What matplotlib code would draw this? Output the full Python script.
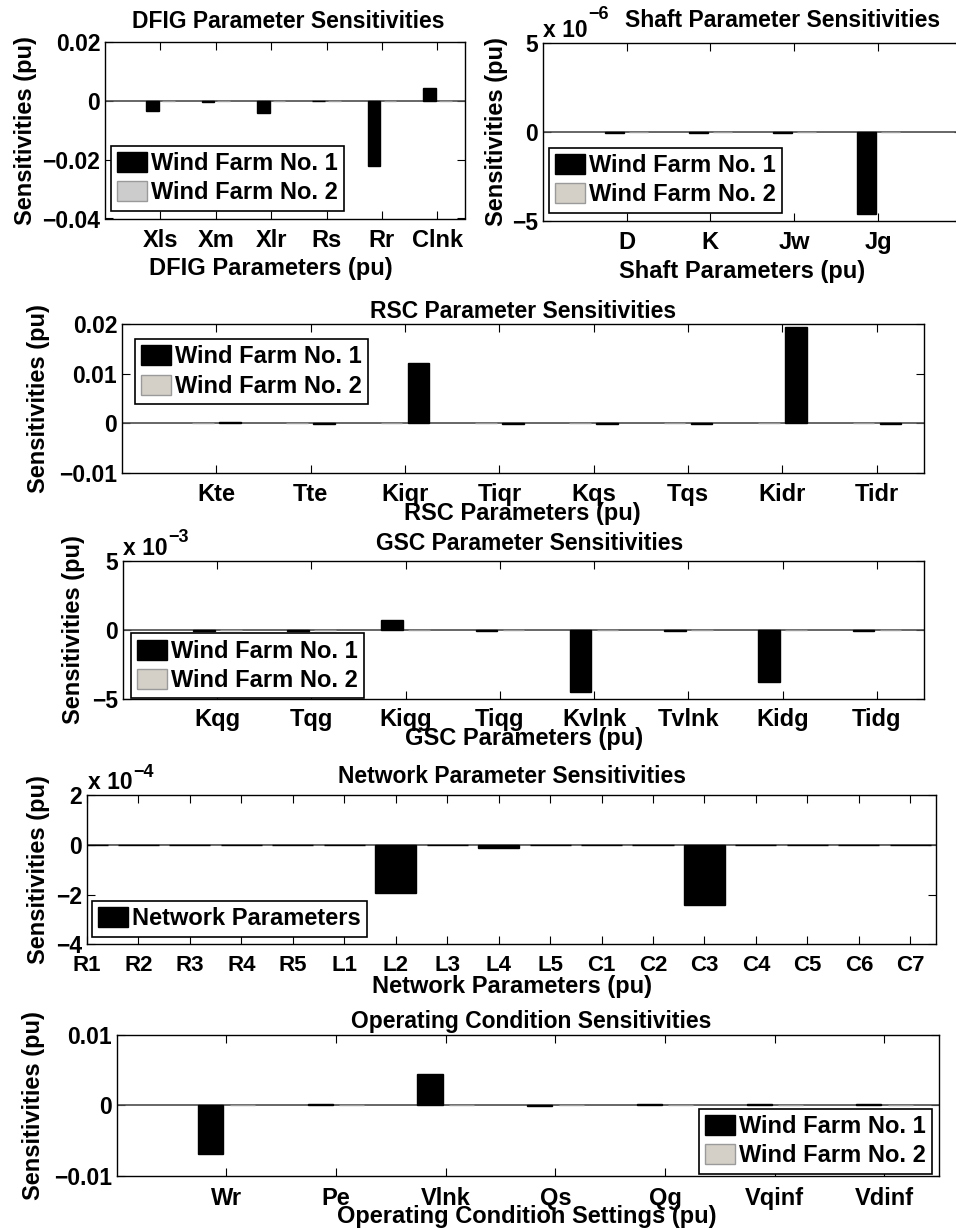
import numpy as np
import matplotlib
matplotlib.use("Agg")
import matplotlib.pyplot as plt
from matplotlib.patches import Patch

plt.rcParams['font.family'] = ['Liberation Sans', 'DejaVu Sans']
plt.rcParams['font.weight'] = 'bold'
plt.rcParams['axes.linewidth'] = 1.0

# ---------------- data ----------------
dfig_params = ['Xls', 'Xm', 'Xlr', 'Rs', 'Rr', 'Clnk']
dfig_wf1 = [-0.0034, -0.0003, -0.0040, 0.0001, -0.0221, 0.0043]
dfig_wf2 = [0.0, 0.0, 0.0, 0.0, 0.0, 0.0]

shaft_params = ['D', 'K', 'Jw', 'Jg']
shaft_wf1 = [-0.05e-6, -0.05e-6, -0.05e-6, -4.64e-6]
shaft_wf2 = [0.0, 0.0, 0.0, 0.0]

rsc_params = ['Kte', 'Tte', 'Kiqr', 'Tiqr', 'Kqs', 'Tqs', 'Kidr', 'Tidr']
rsc_wf1 = [0.0002, -0.0001, 0.0121, -0.0001, -0.0001, -0.0001, 0.0193, -0.0001]
rsc_wf2 = [0.0, 0.0, 0.0, 0.0, 0.0, 0.0, 0.0, 0.0]

gsc_params = ['Kqg', 'Tqg', 'Kiqg', 'Tiqg', 'Kvlnk', 'Tvlnk', 'Kidg', 'Tidg']
gsc_wf1 = [-0.05e-3, -0.05e-3, 0.75e-3, -0.05e-3, -4.50e-3, -0.05e-3, -3.77e-3, -0.05e-3]
gsc_wf2 = [0.0, 0.0, 0.0, 0.0, 0.0, 0.0, 0.0, 0.0]

net_params = ['R1', 'R2', 'R3', 'R4', 'R5', 'L1', 'L2', 'L3', 'L4', 'L5',
              'C1', 'C2', 'C3', 'C4', 'C5', 'C6', 'C7']
net_vals = [-0.02e-4, -0.02e-4, -0.02e-4, -0.02e-4, -0.02e-4, -0.02e-4, -1.94e-4,
            -0.02e-4, -0.11e-4, -0.02e-4, -0.02e-4, -0.02e-4, -2.44e-4,
            -0.02e-4, -0.02e-4, -0.02e-4, -0.02e-4]

op_params = ['Wr', 'Pe', 'Vlnk', 'Qs', 'Qg', 'Vqinf', 'Vdinf']
op_wf1 = [-0.0069, 0.0001, 0.0044, -0.0001, 0.0001, 0.0001, 0.0001]
op_wf2 = [0.0, 0.0, 0.0, 0.0, 0.0, 0.0, 0.0]

wf_labels = ['Wind Farm No. 1', 'Wind Farm No. 2']

# ---------------- layout helpers (pixel units) ----------------
W, H = 956, 1230
fig = plt.figure(figsize=(W / 100, H / 100), dpi=100)

BLACK = 'black'
GREY_WARM = '#d4d0c8'
GREY_EDGE = '#9a9a9a'


def make_axes(l, r, t, b):
    ax = fig.add_axes([l / W, 1 - b / H, (r - l) / W, (b - t) / H])
    ax._pxbox = (l, r, t, b)
    return ax


def fx(ax, x):
    l, r, t, b = ax._pxbox
    return (x - l) / (r - l)


def fy(ax, y):
    l, r, t, b = ax._pxbox
    return (b - y) / (b - t)


def style(ax, cats, xlim, ylim, yticks, yticklabels, xfs=17, xpad=7.5):
    x = np.arange(1, len(cats) + 1)
    ax.set_xlim(*xlim)
    ax.set_ylim(*ylim)
    ax.tick_params(axis='both', direction='in', top=True, right=True,
                   length=5.5, width=0.8, color='black')
    ax.tick_params(axis='x', pad=xpad, labelsize=xfs)
    ax.tick_params(axis='y', pad=3.5, labelsize=16.5)
    ax.set_xticks(x)
    ax.set_xticklabels(cats, fontweight='bold')
    ax.set_yticks(yticks)
    ax.set_yticklabels(yticklabels, fontweight='bold')
    ax.axhline(0, color='0.3', lw=1.2, zorder=2)


def texts(ax, title, title_xy, xlabel, xlabel_xy, ylabel_x):
    ax.set_title(title, fontsize=16.5, fontweight='bold',
                 x=fx(ax, title_xy[0]), y=fy(ax, title_xy[1]), pad=0)
    ax.set_xlabel(xlabel, fontsize=17, fontweight='bold', va='baseline')
    ax.xaxis.set_label_coords(fx(ax, xlabel_xy[0]), fy(ax, xlabel_xy[1]))
    ax.set_ylabel('Sensitivities (pu)', fontsize=17, fontweight='bold')
    ax.yaxis.set_label_coords(fx(ax, ylabel_x), 0.5)


def scale_label(ax, base_xy, exp_xy, exponent):
    ax.text(fx(ax, base_xy[0]), fy(ax, base_xy[1]), 'x 10', transform=ax.transAxes,
            fontsize=16.5, fontweight='bold', ha='left', va='baseline', clip_on=False)
    ax.text(fx(ax, exp_xy[0]), fy(ax, exp_xy[1]), exponent, transform=ax.transAxes,
            fontsize=13, fontweight='bold', ha='left', va='baseline', clip_on=False)


def grouped(ax, wf1, wf2, wf1_first=True):
    x = np.arange(1, len(wf1) + 1)
    off, width = 0.143, 0.229
    o1, o2 = (-off, off) if wf1_first else (off, -off)
    ax.bar(x + o2, wf2, width, color=GREY_WARM, edgecolor=GREY_EDGE, linewidth=1, zorder=3)
    ax.bar(x + o1, wf1, width, color=BLACK, edgecolor=BLACK, linewidth=1, zorder=4)


def legend(ax, labels, handles, anchor, loc='upper left'):
    leg = ax.legend(handles, labels, loc=loc,
                    bbox_to_anchor=(fx(ax, anchor[0]), fy(ax, anchor[1])),
                    borderaxespad=0, prop={'size': 17, 'weight': 'bold'},
                    frameon=True, fancybox=False, framealpha=1, edgecolor='black',
                    handlelength=1.27, handleheight=0.92, handletextpad=0.15,
                    borderpad=0.27, labelspacing=0.26)
    leg.get_frame().set_linewidth(1.2)
    leg.set_zorder(10)
    return leg


def wf_handles(grey=GREY_WARM):
    return [Patch(facecolor=BLACK, edgecolor=BLACK),
            Patch(facecolor=grey, edgecolor=GREY_EDGE)]


M = '\u2212'

# ---------------- DFIG ----------------
ax = make_axes(105, 465, 42, 218.5)
grouped(ax, dfig_wf1, dfig_wf2)
style(ax, dfig_params, (0, 6.5), (-0.04, 0.02), [-0.04, -0.02, 0, 0.02],
      [M + '0.04', M + '0.02', '0', '0.02'])
texts(ax, 'DFIG Parameter Sensitivities', (288, 27.7),
      'DFIG Parameters (pu)', (271, 275), 37)
legend(ax, wf_labels, wf_handles('#cccccc'), (110.7, 145.7))

# ---------------- Shaft ----------------
ax = make_axes(542.7, 962, 42.7, 220.7)
grouped(ax, shaft_wf1, shaft_wf2)
style(ax, shaft_params, (0, 5), (-5e-6, 5e-6), [-5e-6, 0, 5e-6],
      [M + '5', '0', '5'])
texts(ax, 'Shaft Parameter Sensitivities', (783, 26.7),
      'Shaft Parameters (pu)', (742.5, 278.3), 508)
scale_label(ax, (542.7, 36.7), (588, 19), M + '6')
legend(ax, wf_labels, wf_handles(), (548.7, 147.7))

# ---------------- RSC ----------------
ax = make_axes(122, 924, 324, 473)
grouped(ax, rsc_wf1, rsc_wf2, wf1_first=False)
style(ax, rsc_params, (0, 8.5), (-0.01, 0.02), [-0.01, 0, 0.01, 0.02],
      [M + '0.01', '0', '0.01', '0.02'])
texts(ax, 'RSC Parameter Sensitivities', (523, 318.3),
      'RSC Parameters (pu)', (522.5, 520), 50)
legend(ax, wf_labels, wf_handles(), (135, 339))

# ---------------- GSC ----------------
ax = make_axes(123, 924, 560.7, 699.3)
grouped(ax, gsc_wf1, gsc_wf2)
style(ax, gsc_params, (0, 8.5), (-5e-3, 5e-3), [-5e-3, 0, 5e-3],
      [M + '5', '0', '5'], xpad=6.5)
texts(ax, 'GSC Parameter Sensitivities', (530, 550),
      'GSC Parameters (pu)', (524, 745), 85)
scale_label(ax, (123.3, 555), (168, 541.7), M + '3')
legend(ax, wf_labels, wf_handles(), (131, 633.3))

# ---------------- Network ----------------
ax = make_axes(87, 936, 795, 944.3)
xn = np.arange(1, len(net_vals) + 1)
ax.bar(xn, net_vals, 0.8, color=BLACK, edgecolor=BLACK, linewidth=1, zorder=4)
style(ax, net_params, (1, 17.5), (-4e-4, 2e-4), [-4e-4, -2e-4, 0, 2e-4],
      [M + '4', M + '2', '0', '2'], xfs=16, xpad=8)
texts(ax, 'Network Parameter Sensitivities', (512, 782.7),
      'Network Parameters (pu)', (512, 993.3), 50)
scale_label(ax, (88.3, 789.3), (133, 776.7), M + '4')
legend(ax, ['Network Parameters'], [Patch(facecolor=BLACK, edgecolor=BLACK)],
       (91.7, 901))

# ---------------- Operating conditions ----------------
ax = make_axes(116.7, 939.3, 1034.7, 1175.7)
grouped(ax, op_wf1, op_wf2)
style(ax, op_params, (0, 7.5), (-0.01, 0.01), [-0.01, 0, 0.01],
      [M + '0.01', '0', '0.01'], xpad=8)
texts(ax, 'Operating Condition Sensitivities', (531, 1028.3),
      'Operating Condition Settings (pu)', (527, 1223.3), 45)
legend(ax, wf_labels, wf_handles(), (932, 1108.7), loc='upper right')

fig.savefig('out.png', dpi=100)
